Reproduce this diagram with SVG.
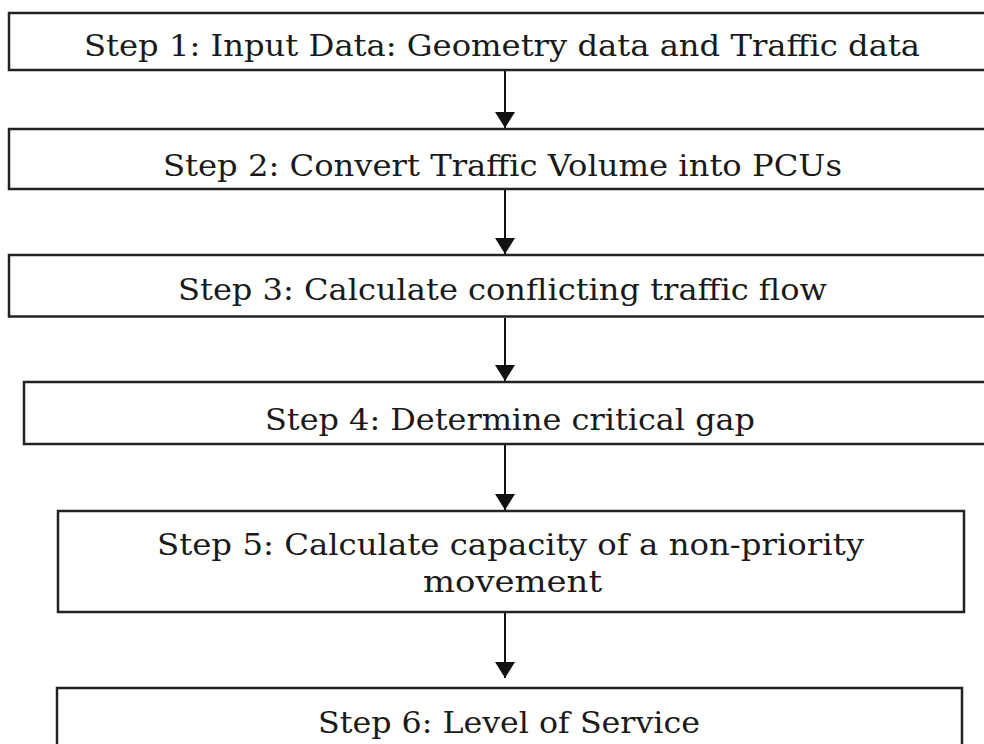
<svg xmlns="http://www.w3.org/2000/svg" width="984" height="744" viewBox="0 0 984 744">
  <style>
    .box { fill: #ffffff; stroke: #222222; stroke-width: 2.5; }
    .lbl { font-family: "DejaVu Serif", "Liberation Serif", serif; font-size: 30px; fill: #1a1a1a; text-anchor: start; }
    .conn { stroke: #111111; stroke-width: 2; fill: none; marker-end: url(#arrow); }
  </style>
  <defs>
    <marker id="arrow" viewBox="0 0 16 20" refX="16" refY="10" markerWidth="16" markerHeight="20" markerUnits="userSpaceOnUse" orient="auto">
      <path d="M0,0 L16,10 L0,20 z" fill="#111111"/>
    </marker>
  </defs>
  <rect x="0" y="0" width="984" height="744" fill="#ffffff"/>

  <g id="connectors">
    <line class="conn" x1="505" y1="71" x2="505" y2="128"/>
    <line class="conn" x1="505" y1="190" x2="505" y2="254"/>
    <line class="conn" x1="505" y1="318" x2="505" y2="381"/>
    <line class="conn" x1="505" y1="445" x2="505" y2="510"/>
    <line class="conn" x1="505" y1="613" x2="505" y2="678"/>
  </g>

  <g id="step1">
    <rect class="box" x="9" y="13" width="990" height="57"/>
    <text class="lbl" x="84" y="56" textLength="836" lengthAdjust="spacingAndGlyphs">Step 1: Input Data: Geometry data and Traffic data</text>
  </g>
  <g id="step2">
    <rect class="box" x="9" y="129" width="990" height="60"/>
    <text class="lbl" x="163" y="176" textLength="679" lengthAdjust="spacingAndGlyphs">Step 2: Convert Traffic Volume into PCUs</text>
  </g>
  <g id="step3">
    <rect class="box" x="9" y="255" width="990" height="61.5"/>
    <text class="lbl" x="178" y="300" textLength="649" lengthAdjust="spacingAndGlyphs">Step 3: Calculate conflicting traffic flow</text>
  </g>
  <g id="step4">
    <rect class="box" x="24" y="382" width="975" height="62"/>
    <text class="lbl" x="265" y="430" textLength="490" lengthAdjust="spacingAndGlyphs">Step 4: Determine critical gap</text>
  </g>
  <g id="step5">
    <rect class="box" x="58" y="511" width="906" height="101"/>
    <text class="lbl" x="157" y="555" textLength="707" lengthAdjust="spacingAndGlyphs">Step 5: Calculate capacity of a non-priority</text>
    <text class="lbl" x="423" y="592" textLength="179" lengthAdjust="spacingAndGlyphs">movement</text>
  </g>
  <g id="step6">
    <rect class="box" x="57" y="688" width="905" height="70"/>
    <text class="lbl" x="318" y="733" textLength="382" lengthAdjust="spacingAndGlyphs">Step 6: Level of Service</text>
  </g>
</svg>
